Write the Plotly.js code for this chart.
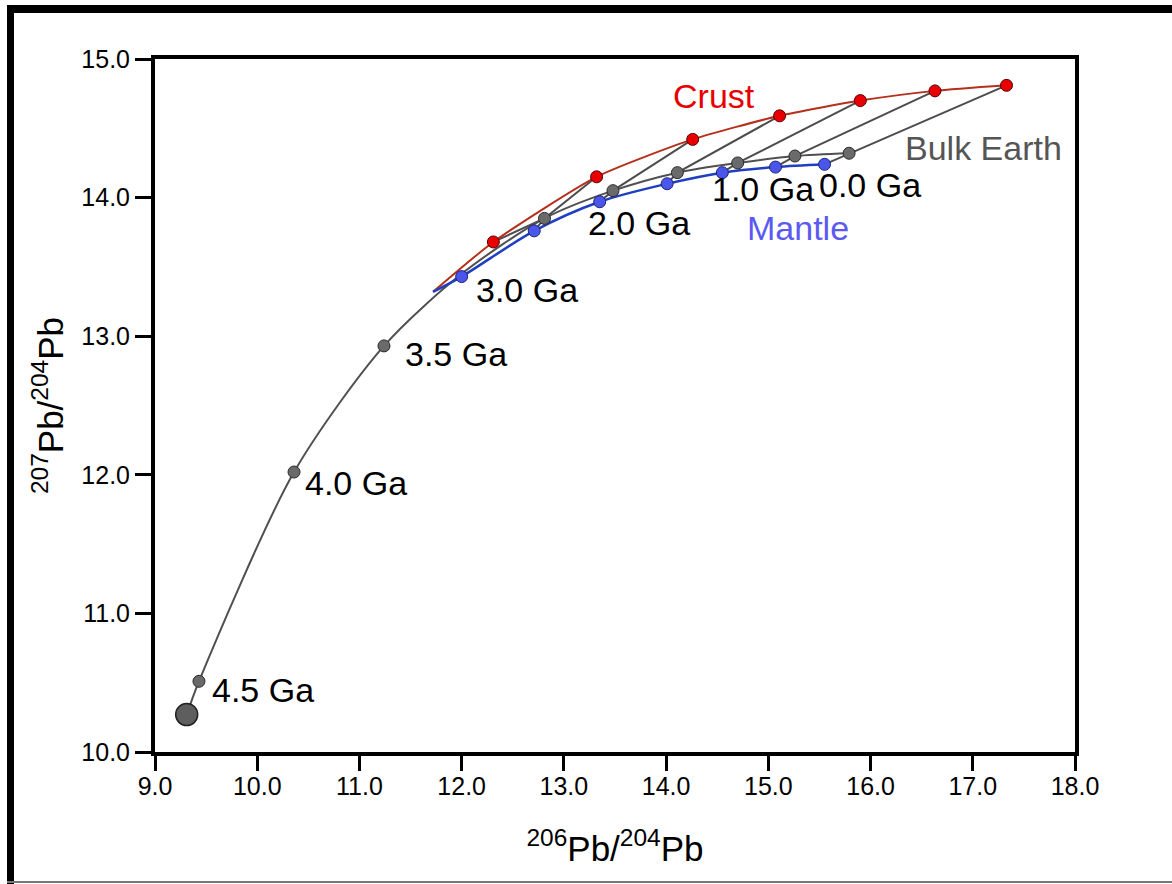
<!DOCTYPE html>
<html>
<head>
<meta charset="utf-8">
<script src="https://cdn.plot.ly/plotly-3.0.1.min.js"></script>
<style>
html,body{margin:0;padding:0;background:#fff;}
#wrap{position:relative;width:1172px;height:884px;overflow:hidden;}
#chart{position:absolute;left:0;top:0;width:1172px;height:884px;}
.bar{position:absolute;pointer-events:none;}
</style>
</head>
<body>
<div id="wrap">
<div id="chart"></div>
<div class="bar" style="left:7px;top:5px;width:1165px;height:8px;background:#000;"></div>
<div class="bar" style="left:7px;top:5px;width:7px;height:879px;background:#000;"></div>
<div class="bar" style="left:7px;top:881px;width:1165px;height:2px;background:#777;"></div>
</div>
<script>
// Ages (Ga) for the mantle / crust evolution points
const ages = [3.0, 2.5, 2.0, 1.5, 1.0, 0.5, 0.0];
// Mantle (depleted) 206Pb/204Pb and 207Pb/204Pb
const mantleX = [12.00, 12.71, 13.35, 14.01, 14.55, 15.07, 15.55];
const mantleY = [13.43, 13.76, 13.97, 14.10, 14.18, 14.22, 14.24];
// Crust
const crustX = [12.31, 13.32, 14.26, 15.11, 15.90, 16.63, 17.33];
const crustY = [13.68, 14.15, 14.42, 14.59, 14.70, 14.77, 14.81];
// Bulk Earth growth curve (primordial, 4.5, 4.0, 3.5, 3.0, 2.5 ... 0.0 Ga)
const bulkAges = [4.57, 4.5, 4.0, 3.5, 3.0, 2.5, 2.0, 1.5, 1.0, 0.5, 0.0];
const bulkX = [9.31, 9.43, 10.36, 11.24, 12.00, 12.81, 13.48, 14.11, 14.70, 15.26, 15.79];
const bulkY = [10.27, 10.51, 12.02, 12.93, 13.45, 13.85, 14.05, 14.18, 14.25, 14.30, 14.32];
// point where crust and mantle curves split from the bulk curve
const splitX = 11.72, splitY = 13.32;
// tick labels
const xTicks = [9, 10, 11, 12, 13, 14, 15, 16, 17, 18];
const yTicks = [10, 11, 12, 13, 14, 15];

const FONT = 'Liberation Sans, Arial, Helvetica, sans-serif';

// isochron segments: crust(t) -> bulk(t) -> mantle(t)
const isoX = [], isoY = [];
for (let i = 1; i < ages.length; i++) {
  const bi = bulkAges.indexOf(ages[i]);
  isoX.push(crustX[i], bulkX[bi], mantleX[i], null);
  isoY.push(crustY[i], bulkY[bi], mantleY[i], null);
}
// segment from 3.0 Ga crust to 2.5 Ga bulk earth
{
  const bi = bulkAges.indexOf(2.5);
  isoX.push(crustX[0], bulkX[bi], null);
  isoY.push(crustY[0], bulkY[bi], null);
}

// gray markers: all bulk points except primordial (big) and 3.0 Ga (hidden under mantle)
const bmX = [], bmY = [];
bulkAges.forEach((a, i) => { if (i > 0 && a !== 3.0) { bmX.push(bulkX[i]); bmY.push(bulkY[i]); } });

const traces = [
  {x: isoX, y: isoY, mode: 'lines', line: {color: '#4d4d4d', width: 2}, hoverinfo: 'skip'},
  {x: bulkX, y: bulkY, mode: 'lines', line: {color: '#505050', width: 2, shape: 'spline', smoothing: 0.8}},
  {x: [splitX].concat(crustX), y: [splitY].concat(crustY), mode: 'lines',
   line: {color: '#b5301c', width: 2, shape: 'spline', smoothing: 0.6}},
  {x: [splitX].concat(mantleX), y: [splitY].concat(mantleY), mode: 'lines',
   line: {color: '#1f3fc0', width: 2.5, shape: 'spline', smoothing: 0.9}},
  {x: [bulkX[0]], y: [bulkY[0]], mode: 'markers',
   marker: {size: 22, color: '#5e5e5e', line: {color: '#222', width: 1.5}}},
  {x: bmX, y: bmY, mode: 'markers',
   marker: {size: 12, color: '#6a6a6a', line: {color: '#2a2a2a', width: 1}}},
  {x: mantleX, y: mantleY, mode: 'markers',
   marker: {size: 12, color: '#4a56ea', line: {color: '#1c247a', width: 1}}},
  {x: crustX, y: crustY, mode: 'markers',
   marker: {size: 12, color: '#e80000', line: {color: '#5a0000', width: 1}}}
];

const ann = (x, y, text, color, anchor) => ({
  x: x, y: y, xref: 'x', yref: 'y', text: text, showarrow: false,
  xanchor: anchor || 'left', yanchor: 'middle',
  font: {family: FONT, size: 34, color: color || '#000'}
});

const layout = {
  width: 1172, height: 884,
  margin: {l: 155, r: 97, t: 59, b: 132},
  paper_bgcolor: '#fff', plot_bgcolor: '#fff',
  showlegend: false,
  font: {family: FONT, color: '#000'},
  xaxis: {
    range: [9, 18], tickvals: xTicks, ticktext: xTicks.map(v => v.toFixed(1)),
    showgrid: false, zeroline: false,
    showline: true, mirror: true, linecolor: '#000', linewidth: 4,
    ticks: 'outside', ticklen: 15, tickwidth: 3, tickcolor: '#000',
    ticklabelstandoff: -6,
    tickfont: {family: FONT, size: 25, color: '#000'},
    title: {text: '<sup>206</sup>Pb/<sup>204</sup>Pb', font: {family: FONT, size: 35, color: '#000'}, standoff: 38}
  },
  yaxis: {
    range: [10, 15], tickvals: yTicks, ticktext: yTicks.map(v => v.toFixed(1)),
    showgrid: false, zeroline: false,
    showline: true, mirror: true, linecolor: '#000', linewidth: 4,
    ticks: 'outside', ticklen: 16, tickwidth: 3, tickcolor: '#000',
    tickfont: {family: FONT, size: 25, color: '#000'},
    title: {text: '<sup>207</sup>Pb/<sup>204</sup>Pb', font: {family: FONT, size: 35, color: '#000'}, standoff: 8}
  },
  annotations: [
    ann(14.47, 14.73, 'Crust', '#e80000', 'center'),
    ann(16.32, 14.36, 'Bulk Earth', '#555555'),
    ann(14.77, 13.78, 'Mantle', '#5a5af0'),
    ann(12.12, 13.33, '3.0 Ga'),
    ann(11.43, 12.87, '3.5 Ga'),
    ann(10.45, 11.94, '4.0 Ga'),
    ann(9.54, 10.45, '4.5 Ga'),
    ann(13.22, 13.82, '2.0 Ga'),
    ann(14.43, 14.06, '1.0 Ga'),
    ann(15.48, 14.09, '0.0 Ga')
  ]
};

Plotly.newPlot('chart', traces, layout, {staticPlot: true, displayModeBar: false});
</script>
</body>
</html>
